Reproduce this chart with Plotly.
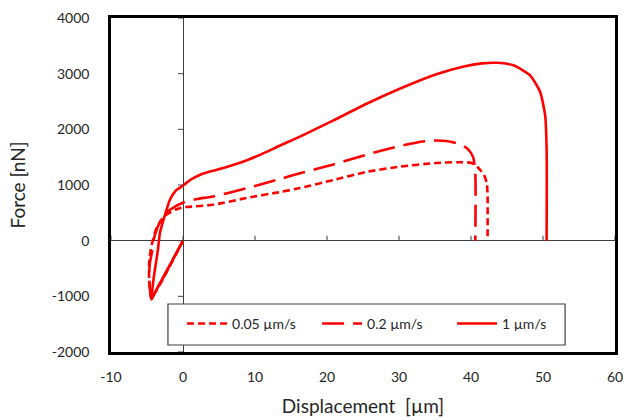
import plotly.graph_objects as go

# ---- data (displacement in µm, force in nN) ----
names = ["0.05 µm/s", "0.2 µm/s", "1 µm/s"]

x_005 = [0, -1, -2, -3, -4, -4.4, -4.7, -4.7, -4.5, -4.2, -3.6, -2.5, -1, 0, 0.5, 4.2, 8.8, 13.5,
         16.25, 20.9, 25.5, 30.1, 35.2, 38, 40, 41, 41.8, 42.2, 42.3, 42.3]
y_005 = [0, -250, -500, -740, -960, -1050, -700, -400, -180, 0, 250, 450, 560, 600, 605, 646, 766, 875,
         945, 1090, 1235, 1330, 1395, 1410, 1398, 1310, 1180, 1030, 800, 0]

x_02 = [0, -1, -2, -3, -4, -4.4, -4.7, -4.6, -4.3, -4.1, -3.5, -2.5, -1, 0, 0.5, 2, 4.2, 8.8, 13.5,
        16.25, 20.9, 25.5, 30.1, 32.5, 34.8, 36.6, 38.5, 39.6, 40.3, 40.6, 40.6]
y_02 = [0, -240, -480, -720, -950, -1040, -650, -400, -200, 0, 250, 480, 620, 680, 705, 750, 795, 940, 1110,
        1210, 1370, 1545, 1700, 1765, 1800, 1790, 1730, 1640, 1500, 1200, 0]

x_1 = [0, -1, -2, -3, -4, -4.35, -4.1, -3.5, -3.2, -2.7, -1.8, -1, 0, 1, 2.4, 4, 5.6, 8.8, 11, 13.5,
       16.25, 20.9, 25.5, 30.1, 35.2, 39, 41.5, 43.6, 45.9, 48.2, 49.6, 50.3, 50.5, 50.5]
y_1 = [0, -240, -480, -720, -960, -1050, -700, -180, 140, 377, 740, 900, 990, 1090, 1185, 1250, 1305, 1440, 1560, 1710,
       1870, 2160, 2460, 2730, 2990, 3130, 3185, 3195, 3150, 2970, 2670, 2250, 1650, 0]

x_ticks = [-10, 0, 10, 20, 30, 40, 50, 60]
x_labels = ["-10", "0", "10", "20", "30", "40", "50", "60"]
y_ticks = [-2000, -1000, 0, 1000, 2000, 3000, 4000]
y_labels = ["-2000", "-1000", "0", "1000", "2000", "3000", "4000"]

series = [(x_005, y_005, "7px,4px"), (x_02, y_02, "22px,9px"), (x_1, y_1, "solid")]

FONT = "Lato, 'Open Sans', sans-serif"
RED = "#FF0000"
TXT = "#262626"

fig = go.Figure()
for (xs, ys, dash), nm in zip(series, names):
    fig.add_trace(go.Scatter(x=xs, y=ys, mode="lines", name=nm,
                             line=dict(color=RED, width=2.6, dash=dash, shape="spline", smoothing=0.6)))

shapes = []
for t in x_ticks:
    shapes.append(dict(type="line", xref="x", yref="y", x0=t, x1=t, ysizemode="pixel", yanchor=0,
                       y0=0, y1=5, line=dict(color="#404040", width=1)))
for t in y_ticks:
    shapes.append(dict(type="line", xref="x", yref="y", y0=t, y1=t, xsizemode="pixel", xanchor=0,
                       x0=-5, x1=0, line=dict(color="#404040", width=1)))
# legend frame
shapes.append(dict(type="rect", xref="paper", yref="paper", x0=0.113, x1=0.901, y0=0.021, y1=0.1437,
                   fillcolor="white", line=dict(color="#404040", width=1.2), layer="above"))

fig.update_layout(
    width=628, height=420,
    margin=dict(l=111, r=13, t=18, b=68, autoexpand=False),
    paper_bgcolor="white", plot_bgcolor="white",
    font=dict(family=FONT, size=14, color=TXT),
    shapes=shapes,
    legend=dict(orientation="h", x=0.141, y=0.084, xanchor="left", yanchor="middle",
                bgcolor="rgba(0,0,0,0)", borderwidth=0,
                font=dict(family=FONT, size=14, color=TXT),
                entrywidth=80, itemwidth=40, tracegroupgap=0),
)
fig.update_xaxes(range=[-10, 60], tickvals=x_ticks, ticktext=x_labels, ticks="", showgrid=False,
                 showline=True, mirror=True, linecolor="black", linewidth=2.5,
                 zeroline=True, zerolinecolor="#404040", zerolinewidth=1,
                 ticklabelstandoff=10, automargin=False,
                 title=dict(text="Displacement  [µm]", font=dict(size=19, family=FONT), standoff=17))
fig.update_yaxes(range=[-2000, 4000], tickvals=y_ticks, ticktext=y_labels, ticks="", showgrid=False,
                 showline=True, mirror=True, linecolor="black", linewidth=2.5,
                 zeroline=True, zerolinecolor="#404040", zerolinewidth=1,
                 ticklabelstandoff=16, automargin=False,
                 title=dict(text="Force [nN]", font=dict(size=19, family=FONT), standoff=22))

fig.write_html("out.html")
